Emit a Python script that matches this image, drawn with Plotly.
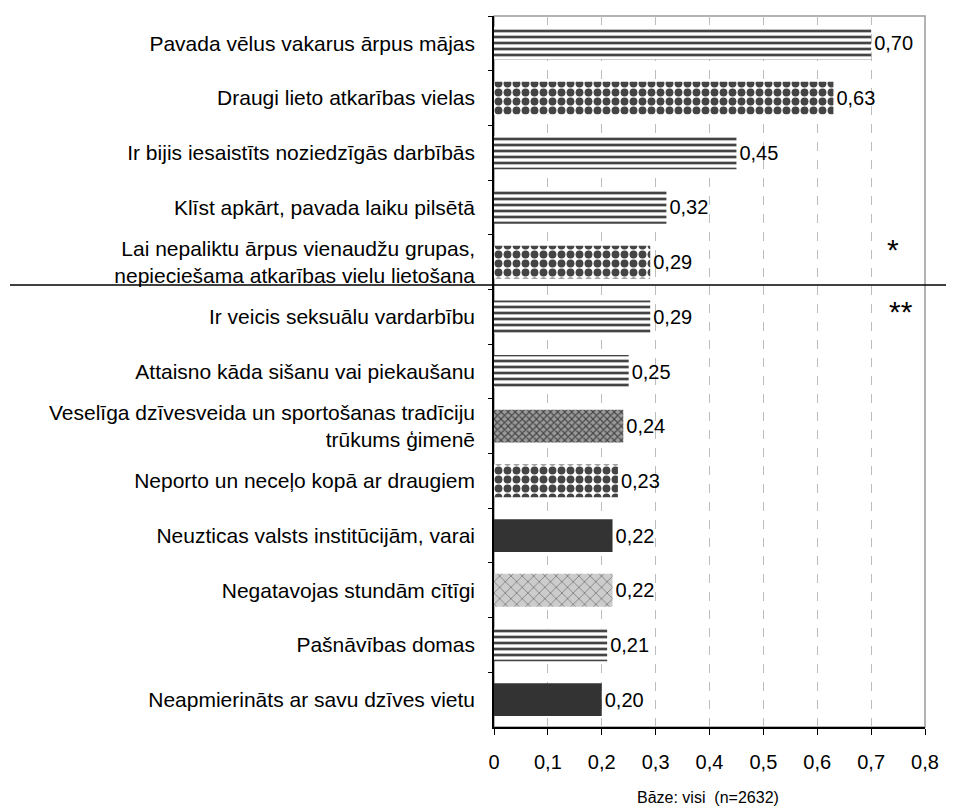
import plotly.graph_objects as go

categories = [
    "Pavada vēlus vakarus ārpus mājas",
    "Draugi lieto atkarības vielas",
    "Ir bijis iesaistīts noziedzīgās darbībās",
    "Klīst apkārt, pavada laiku pilsētā",
    "Lai nepaliktu ārpus vienaudžu grupas,<br>nepieciešama atkarības vielu lietošana",
    "Ir veicis seksuālu vardarbību",
    "Attaisno kāda sišanu vai piekaušanu",
    "Veselīga dzīvesveida un sportošanas tradīciju<br>trūkums ģimenē",
    "Neporto un neceļo kopā ar draugiem",
    "Neuzticas valsts institūcijām, varai",
    "Negatavojas stundām cītīgi",
    "Pašnāvības domas",
    "Neapmierināts ar savu dzīves vietu",
]
values = [0.70, 0.63, 0.45, 0.32, 0.29, 0.29, 0.25, 0.24, 0.23, 0.22, 0.22, 0.21, 0.20]

x_ticks = [0, 0.1, 0.2, 0.3, 0.4, 0.5, 0.6, 0.7, 0.8]
base_note = "Bāze: visi\u00a0\u00a0(n=2632)"
star1 = "*"
star2 = "**"

# styles per bar
WAVE = dict(shape="-", fg="#a8a8a8", bg="#ffffff", color="#ffffff", size=6, sol=0.45)
DOTS = dict(shape=".", fg="#000000", bg="#ffffff", color="#ffffff", size=9, sol=0.6)
CHECK = dict(shape="x", fg="#1a1a1a", bg="#9a9a9a", color="#9a9a9a", size=5, sol=0.4)
SOLID = dict(shape="", fg="#333333", bg="#333333", color="#333333", size=8, sol=0.3)
LIGHT = dict(shape="x", fg="#8a8a8a", bg="#cccccc", color="#cccccc", size=8, sol=0.12)
styles = [WAVE, DOTS, WAVE, WAVE, DOTS, WAVE, WAVE, CHECK, DOTS, SOLID, LIGHT, WAVE, SOLID]

FONT = "Liberation Sans, Arial, sans-serif"

fig = go.Figure()
fig.add_trace(go.Bar(
    y=categories,
    x=values,
    orientation="h",
    width=0.6,
    marker=dict(
        color=[s["color"] for s in styles],
        line=dict(width=0),
        pattern=dict(
            shape=[s["shape"] for s in styles],
            fgcolor=[s["fg"] for s in styles],
            bgcolor=[s["bg"] for s in styles],
            size=[s["size"] for s in styles],
            solidity=[s["sol"] for s in styles],
            fgopacity=1,
            fillmode="overlay",
        ),
    ),
    texttemplate="%{x:.2f}",
    textposition="outside",
    constraintext="none",
    cliponaxis=False,
    textfont=dict(family=FONT, size=20, color="#000000"),
    showlegend=False,
    hoverinfo="skip",
))

# plot frame (top/right in grey)
fig.add_shape(type="rect", xref="paper", yref="paper", x0=0, x1=1, y0=0, y1=1,
              line=dict(color="#9a9a9a", width=1.5), layer="below")

# separator line
fig.add_shape(type="line", xref="paper", yref="y", x0=-1.123, x1=1.07, y0=4.42, y1=4.42,
              line=dict(color="#000000", width=1.5))

fig.add_annotation(text=star1, xref="paper", yref="paper", x=0.926, y=0.671,
                   xanchor="center", yanchor="middle",
                   showarrow=False, font=dict(family=FONT, size=30, color="#000"))
fig.add_annotation(text=star2, xref="paper", yref="paper", x=0.944, y=0.584,
                   xanchor="center", yanchor="middle",
                   showarrow=False, font=dict(family=FONT, size=30, color="#000"))
fig.add_annotation(text=base_note, xref="paper", yref="paper", x=0.497, y=-0.0985,
                   xanchor="center", yanchor="middle",
                   showarrow=False, font=dict(family=FONT, size=16, color="#000"))

fig.update_layout(
    width=946, height=799,
    margin=dict(l=486, r=29, t=8, b=80),
    paper_bgcolor="white", plot_bgcolor="white",
    separators=", ",
    font=dict(family=FONT, color="#000"),
    bargap=0.4,
)
fig.update_xaxes(
    range=[0, 0.8], tickvals=x_ticks,
    ticks="outside", ticklen=6, tickcolor="#000", ticklabelstandoff=10,
    showline=True, linecolor="#000", linewidth=1.5,
    showgrid=True, gridcolor="#bdbdbd", griddash="dash", gridwidth=1,
    zeroline=False,
    tickfont=dict(family=FONT, size=20, color="#000"),
)
fig.update_yaxes(
    type="category", autorange="reversed", tickson="boundaries",
    ticks="outside", ticklen=4, tickcolor="#000", ticklabelstandoff=13,
    showline=True, linecolor="#000", linewidth=1.5,
    showgrid=False, zeroline=False,
    tickfont=dict(family=FONT, size=21, color="#000"),
)

fig.write_html("out.html")
